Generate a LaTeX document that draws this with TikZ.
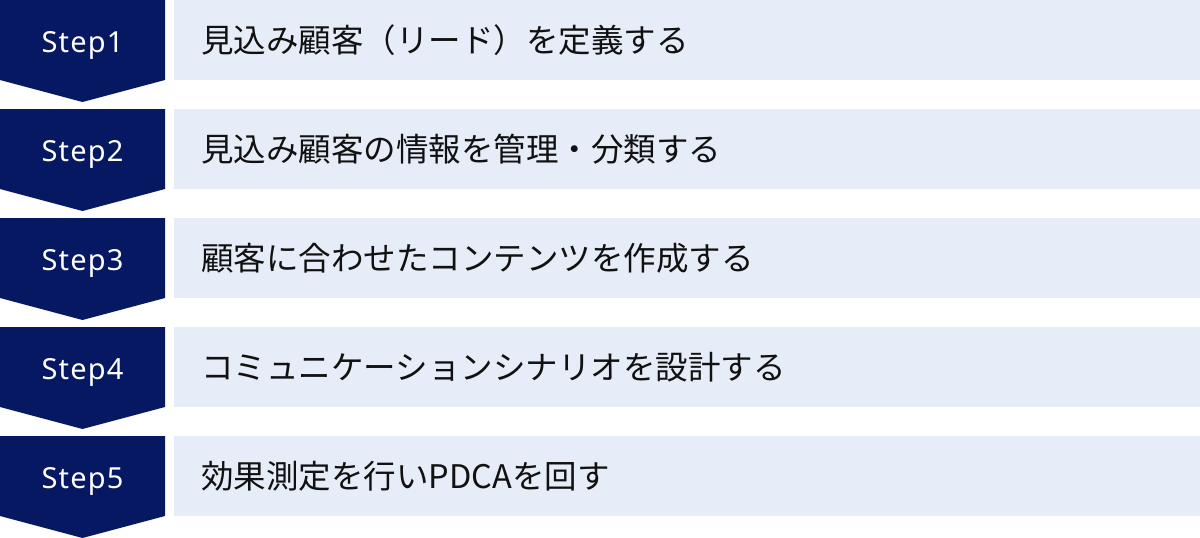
\documentclass[tikz,border=0pt]{standalone}
\usepackage{fontspec}
\setmainfont{Noto Sans CJK JP}
\newfontfamily\labelfont[LetterSpace=4]{Noto Sans}
\definecolor{navy}{HTML}{061862}
\definecolor{pale}{HTML}{E6ECF8}
\definecolor{ink}{HTML}{111111}
\tikzset{
  stepshape/.style={fill=navy, draw=none},
  barbox/.style={fill=pale, draw=none},
  steplabel/.style={text=white, font=\labelfont\fontsize{29}{34}\selectfont, inner sep=0pt, anchor=base},
  desclabel/.style={text=ink, font=\fontsize{32.5}{38}\selectfont, inner sep=0pt, anchor=base west},
}
\begin{document}
\begin{tikzpicture}[x=1pt,y=-1pt]
\useasboundingbox (0,0) rectangle (1200,538);
\foreach \i/\txt in {1/見込み顧客（リード）を定義する,2/見込み顧客の情報を管理・分類する,3/顧客に合わせたコンテンツを作成する,4/コミュニケーションシナリオを設計する,5/効果測定を行いPDCAを回す}{
  \pgfmathsetmacro{\t}{109*(\i-1)}
  \fill[stepshape] (0,\t) -- (165,\t) -- (165,\t+80) -- (82.5,\t+102) -- (0,\t+80) -- cycle;
  \fill[barbox] (174,\t) rectangle (1200,\t+80);
  \node[steplabel] (s\i) at (82.5,\t+52.3) {Step\i};
  \node[desclabel] (d\i) at (201,\t+52.5) {\txt};
}
\end{tikzpicture}
\end{document}
